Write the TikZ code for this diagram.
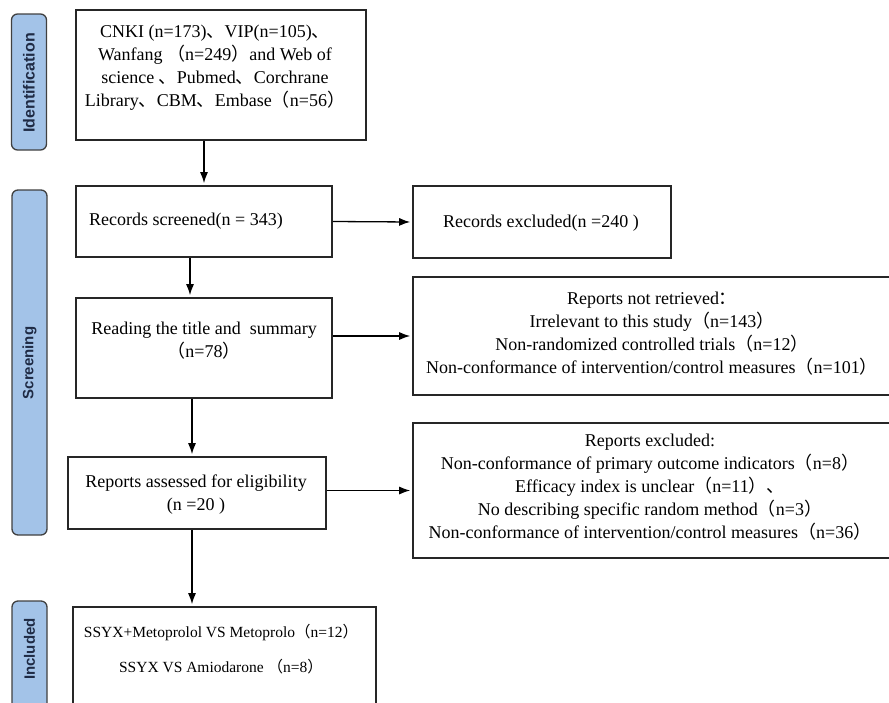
\documentclass[tikz,border=0pt]{standalone}
\usepackage{fontspec}
\setmainfont{Liberation Serif}
\setsansfont{Liberation Sans}
\newfontfamily\cjk{Noto Sans CJK SC}
\newcommand{\lpr}{{\cjk （}}
\newcommand{\rpr}{{\cjk ）}}
\newcommand{\dun}{{\cjk 、}}
\newcommand{\fcolon}{{\cjk ：}}
\usetikzlibrary{arrows.meta}
\definecolor{lblue}{HTML}{A3C3E8}
\definecolor{navy}{HTML}{1F2B45}
\begin{document}
\begin{tikzpicture}[x=1pt,y=-1pt,
  box/.style={draw=black!85, line width=1.6pt, inner sep=0pt},
  lbl/.style={draw=black!75, fill=lblue, line width=1.3pt, rounded corners=6pt, inner sep=0pt, minimum width=35pt},
  lbltext/.style={rotate=90, font=\sffamily\bfseries\fontsize{15}{16}\selectfont, text=navy, inner sep=0pt},
  txt/.style={align=center, font=\fontsize{18}{23}\selectfont, inner sep=0pt},
  smalltxt/.style={align=center, font=\fontsize{15.5}{35}\selectfont, inner sep=0pt},
  arr/.style={-{Latex[length=11pt,width=8pt]}, line width=1.3pt, shorten >=2pt}]
\useasboundingbox (0,0) rectangle (889,702);
\clip (0,0) rectangle (889,702);
% stage labels
\node[lbl, minimum height=136pt] (lid) at (29,82) {};
\node[lbltext, font=\sffamily\bfseries\fontsize{16}{17}\selectfont] (lidt) at (29,83) {Identification};
\node[lbl, minimum height=345pt] (lsc) at (29.5,362.5) {};
\node[lbltext] (lsct) at (29.5,363) {Screening};
\node[lbl, minimum height=119pt] (lin) at (29.5,660.5) {};
\node[lbltext] (lint) at (29.5,649) {Included};
% boxes
\node[box, minimum width=290pt, minimum height=130pt] (src) at (221,75) {};
\node[box, minimum width=256pt, minimum height=71pt] (screen) at (204,221.5) {};
\node[box, minimum width=258pt, minimum height=72pt] (excl1) at (542,222) {};
\node[box, minimum width=256pt, minimum height=100pt] (read) at (204,348) {};
\node[box, minimum width=478pt, minimum height=118pt] (notret) at (652,336) {};
\node[box, minimum width=258pt, minimum height=72pt] (assess) at (197,493) {};
\node[box, minimum width=478pt, minimum height=135pt] (excl2) at (652,490.5) {};
\node[box, minimum width=303pt, minimum height=113pt] (final) at (224.5,663.5) {};
% texts
\node[txt] (srct) at (215,68) {CNKI (n=173)\dun VIP(n=105)\dun\\ Wanfang \lpr n=249\rpr and Web of\\ science \dun Pubmed\dun Corchrane\\ Library\dun CBM\dun Embase\lpr n=56\rpr};
\node[txt, anchor=west] (screent) at (89,221) {Records screened(n = 343)};
\node[txt] (excl1t) at (541,223) {Records excluded(n =240 )};
\node[txt] (readt) at (204,340.5) {Reading the title and \ summary\\ \lpr n=78\rpr};
\node[txt] (notrett) at (652,334) {Reports not retrieved\fcolon\\ Irrelevant to this study\lpr n=143\rpr\\ Non-randomized controlled trials\lpr n=12\rpr\\ Non-conformance of intervention/control measures\lpr n=101\rpr};
\node[txt] (assesst) at (196,495) {Reports assessed for eligibility\\ (n =20 )};
\node[txt] (excl2t) at (650,487.5) {Reports excluded:\\ Non-conformance of primary outcome indicators\lpr n=8\rpr\\ Efficacy index is unclear\lpr n=11\rpr \dun\\ No describing specific random method\lpr n=3\rpr\\ Non-conformance of intervention/control measures\lpr n=36\rpr};
\node[smalltxt] (finalt) at (221,649.5) {SSYX+Metoprolol VS Metoprolo\lpr n=12\rpr\\ SSYX VS Amiodarone \lpr n=8\rpr};
% connectors
\draw[arr] (src.south -| screen.north) -- (screen.north);
\draw[arr] (screen.east) -- (excl1.west);
\draw[arr] ([xshift=-14pt]screen.south) -- ([xshift=-14pt]screen.south |- read.north);
\draw[arr] (notret.west -| read.east) -- (notret.west);
\draw[arr] ([xshift=-12pt]read.south) -- ([xshift=-12pt]read.south |- assess.north);
\draw[arr] (excl2.west -| assess.east) -- (excl2.west);
\draw[arr] ([xshift=-5pt]assess.south) -- ([xshift=-5pt]assess.south |- final.north);
\end{tikzpicture}
\end{document}
